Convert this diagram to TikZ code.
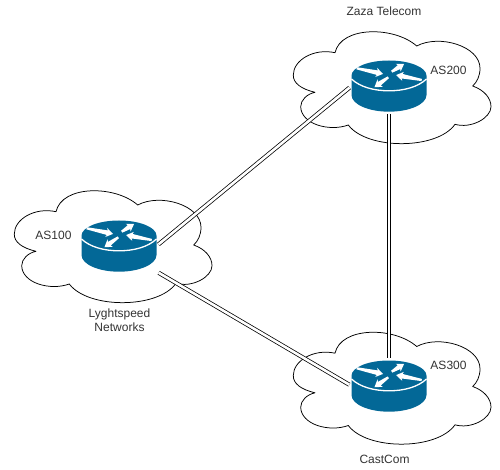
\documentclass[tikz,border=0pt]{standalone}
\usepackage{fontspec}
\setmainfont{Liberation Sans}
\definecolor{routerblue}{HTML}{036897}
\definecolor{labelgray}{HTML}{333333}
\newcommand{\flowarrow}[4]{%
  \fill[white,shift={(#1,#2)},rotate=#3] (0,-1.1) -- (#4-6,-2.3) -- (#4-7,-4.6) -- (#4,0) -- (#4-7,4.6) -- (#4-6,2.3) -- (0,1.1) -- cycle;}
\tikzset{
  x=1pt,y=-1pt,
  cloudpic/.pic={
    \draw[black,line width=0.75pt,line join=round,fill=none]
      (-74,6.3) .. controls (-88,3) and (-96,-3) .. (-95.7,-11)
      .. controls (-95.7,-26) and (-75,-38) .. (-54,-33.3)
      .. controls (-48,-60) and (5,-60) .. (27.7,-40)
      .. controls (50,-52) and (91,-40) .. (91,-17.7)
      .. controls (91,-10) and (88,-4) .. (83.7,0)
      .. controls (95,4) and (102,12) .. (102,20.7)
      .. controls (102,32) and (82,43) .. (66,38.3)
      .. controls (48,64) and (-22,64) .. (-40.7,39)
      .. controls (-60,46) and (-88,38) .. (-88.3,20.7)
      .. controls (-88.3,14) and (-82,8) .. (-74,6.3) -- cycle;
  },
  routerpic/.pic={
    \fill[routerblue]
      (-37.5,-10.3) .. controls (-37.5,-18.7) and (-20.7,-25.5) .. (0,-25.5)
      .. controls (20.7,-25.5) and (37.5,-18.7) .. (37.5,-10.3)
      -- (37.5,9) .. controls (37.5,18.2) and (20.7,25.7) .. (0,25.7)
      .. controls (-20.7,25.7) and (-37.5,18.2) .. (-37.5,9) -- cycle;
    \draw[white,line width=1.3pt]
      (-37.5,-7) .. controls (-29,1) and (-15,4.8) .. (0,4.8)
      .. controls (15,4.8) and (29,1) .. (37.5,-7);
    \flowarrow{-32.3}{-17.7}{-12}{27}
    \flowarrow{2.7}{-14.3}{32}{14.6}
    \flowarrow{32.7}{-6}{169}{26}
    \flowarrow{-0.7}{-8.7}{215.5}{17}
  },
  routerbox/.style={minimum width=75pt,minimum height=51pt,inner sep=0pt,outer sep=0pt},
  link/.style={draw=black,line width=0.75pt,double=white,double distance=2.6pt,shorten >=2.5pt,shorten <=2.5pt},
  lbl/.style={font=\fontsize{12pt}{13.5pt}\selectfont,text=labelgray,inner sep=0pt,align=center}
}
\begin{document}
\begin{tikzpicture}
\useasboundingbox (0,0) rectangle (500,470);
\pic at (389,86) {cloudpic};
\pic at (110,245) {cloudpic};
\pic at (389,386.5) {cloudpic};
\pic at (389,86) {routerpic};
\pic at (119,246) {routerpic};
\pic at (389,386) {routerpic};
\node[routerbox] (r200) at (389,86) {};
\node[routerbox] (r100) at (119,246) {};
\node[routerbox] (r300) at (389,386) {};
\draw[link] (r100.east) -- (r200.west);
\draw[link] (r100.south east) -- (r300.west);
\draw[link] (r200.south) -- (r300.north);
\node[lbl] (t200) at (384,11.5) {Zaza Telecom};
\node[lbl] (a200) at (448.5,70) {AS200};
\node[lbl] (a100) at (53.5,235) {AS100};
\node[lbl] (t100) at (119.5,320) {Lyghtspeed\\Networks};
\node[lbl] (a300) at (448.5,365.5) {AS300};
\node[lbl] (t300) at (384.5,459.5) {CastCom};
\end{tikzpicture}
\end{document}
